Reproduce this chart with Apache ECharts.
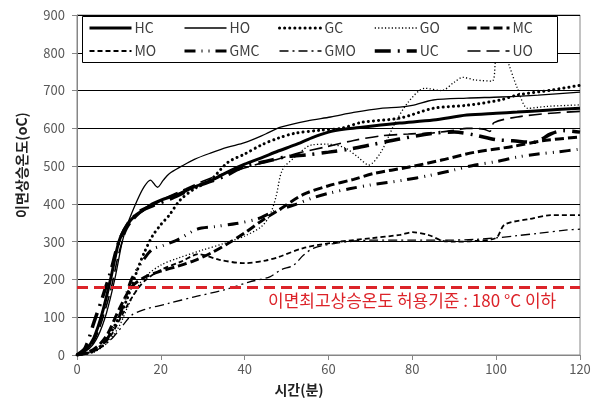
<!DOCTYPE html>
<html><head><meta charset="utf-8">
<script src="https://cdn.jsdelivr.net/npm/echarts@6/dist/echarts.min.js"></script>
<style>html,body{margin:0;padding:0;background:#fff}#c{width:598px;height:412px}</style>
</head><body><div id="c"></div>
<script>
const seriesNames = ['HC','HO','GC','GO','MC','MO','GMC','GMO','UC','UO'];
const xTicks = [0,20,40,60,80,100,120];
const yTicks = [0,100,200,300,400,500,600,700,800,900];
const limitValue = 180;
const limitLabel = '이면최고상승온도 허용기준 : 180 °C 이하';
const yTitle = '이면상승온도(oC)';
const xTitle = '시간(분)';

const HC = [[0,0],[2,12],[4,45],[6,110],[8,200],[10,300],[12,345],[14,370],[16,385],[18,400],[20,410],[24,425],[28,445],[32,462],[36,485],[40,505],[44,522],[48,540],[52,556],[56,575],[60,590],[64,598],[68,603],[72,608],[77,614],[85,622],[93,635],[100,640],[105,643],[112,648],[120,653]];
const HO = [[0,0],[3,18],[5,50],[7,110],[9,200],[10.8,300],[12,345],[14.4,410],[16,445],[17.5,463],[19.2,444],[20.6,463],[22,480],[25,500],[28,518],[32,535],[36,550],[40,562],[45,585],[48.6,603],[55,620],[60.5,630],[66,642],[72.5,653],[77,656],[80,661],[85,675],[93,680],[101,683],[110,688],[120,696]];
const GC = [[0,0],[4,10],[7,40],[10,100],[12,150],[14.4,225],[16,270],[18,315],[20,345],[22,370],[24.6,410],[28,440],[32,465],[36,510],[40,532],[44,556],[48,574],[52,587],[58,595],[63,600],[68,616],[77,627],[85,653],[93,661],[101,675],[105,688],[113,701],[120,714]];
const GO = [[0,0],[4,8],[7,30],[10,75],[12,125],[14,170],[16,205],[20,238],[24,256],[30,278],[35,295],[40,315],[44,340],[46,370],[47.5,420],[49,490],[52,524],[56,556],[60,558],[64,548],[67,524],[69.6,503],[72.5,537],[75.6,608],[79,669],[83,706],[87,700],[90,722],[92,735],[95,728],[99,725],[100,790],[101.5,815],[103,770],[105,708],[107.6,653],[112,658],[120,662]];
const MC = [[0,0],[4,15],[7,50],[10,120],[13,180],[16,205],[20,222],[24,235],[28,250],[32,270],[36,295],[40,323],[44,355],[48,383],[54,425],[60,448],[66,465],[71,481],[79,497],[87,516],[95,537],[104,552],[111,567],[120,577]];
const MO = [[0,0],[5,15],[8,50],[10,90],[13,150],[16,195],[20,225],[25,248],[29,267],[34,252],[40,243],[45,250],[48,259],[54,283],[62,299],[70,309],[77,318],[80,325],[84,317],[87,303],[90,300],[95,302],[100,310],[102,345],[108,360],[113,370],[120,370]];
const GMC = [[0,0],[4,10],[7,40],[10,100],[13,200],[15.8,251],[18,280],[20.6,290],[24,305],[28.7,333],[33,340],[38,348],[43,360],[47,380],[51.7,397],[56,415],[60,428],[65,440],[70,450],[78,463],[84,475],[90,490],[95,503],[100,512],[105,524],[110,532],[115,538],[120,545]];
const GMO = [[0,0],[5,15],[8,40],[10,65],[13,105],[16,120],[22,137],[28,154],[35,172],[41,193],[46,207],[48.6,225],[51.7,238],[54,264],[56.5,283],[62,296],[70,304],[80,304],[88,304],[95,306],[100,310],[105,316],[110,322],[117,331],[120,333]];
const UC = [[0,0],[2,20],[4,85],[6,150],[8,220],[10,300],[12,345],[15,380],[18,395],[22,412],[26,432],[30,452],[35,472],[40,500],[45,512],[50,525],[55,530],[60,537],[65,545],[70,556],[77,572],[85,587],[90,590],[95,582],[100,570],[104,567],[109,563],[113,585],[116,594],[120,590]];
const UO = [[0,0],[3,20],[5,60],[8,170],[10,270],[12,335],[15,375],[18,395],[22,420],[26,440],[30,460],[35,480],[39,492],[43,505],[47,516],[53,535],[59,550],[66,568],[72.5,580],[79,585],[85,588],[90,595],[93,600],[97,598],[98.5,592],[99.5,615],[105,630],[113,640],[120,645]];

const seriesData = {HC, HO, GC, GO, MC, MO, GMC, GMO, UC, UO};
const styles = {
  HC:  {width:3,   type:'solid'},
  HO:  {width:1.3, type:'solid'},
  GC:  {width:3,   type:[0.1,5], cap:'round'},
  GO:  {width:1.3, type:[1.2,2.2]},
  MC:  {width:3,   type:[9,4]},
  MO:  {width:1.8, type:[5,3]},
  GMC: {width:3,   type:[11,6,1,6,1,6], cap:'butt'},
  GMO: {width:1.3, type:[9,4,2,4]},
  UC:  {width:3.5, type:[16,7,2,7]},
  UO:  {width:1.6, type:[13,6]}
};
const FONT = '"Noto Sans CJK KR", "Noto Sans", sans-serif';

function lineStyleOf(n){
  const s = styles[n];
  return {color:'#000', width:s.width, type:s.type, cap:s.cap||'butt', opacity:1};
}

const series = seriesNames.map(function(n){
  return {
    name: n, type: 'line', data: seriesData[n], symbol: 'none', smooth: 0.3,
    lineStyle: lineStyleOf(n),
    itemStyle: {color:'#000'}, z: 3
  };
});
series.push({
  name: 'limit', type: 'line', data: [], symbol: 'none',
  markLine: {
    silent: true, symbol: 'none', label: {show:false},
    lineStyle: {color:'#dc2329', width:3, type:[11,6]},
    data: [{yAxis: limitValue}]
  }
});

const legendLefts = [88,183,278,373,466];
const legends = [0,1,2,3,4].map(function(i){
  return {
    orient:'vertical', left: legendLefts[i], top: 21, itemGap: 9,
    itemWidth: 42, itemHeight: 14, padding: 0, z: 60,
    itemStyle: {opacity: 0},
    textStyle: {fontSize:14, color:'#404040', fontFamily:FONT, padding:[0,0,0,-2]},
    data: [seriesNames[i], seriesNames[i+5]].map(function(n){
      return {name:n, lineStyle: lineStyleOf(n)};
    })
  };
});

const chart = echarts.init(document.getElementById('c'), null, {renderer:'canvas'});
chart.setOption({
  animation: false,
  backgroundColor: '#fff',
  grid: {left:77, right:18, top:15, bottom:57, show:true, borderColor:'#868686', borderWidth:1},
  legend: legends,
  xAxis: {
    type:'value', min: xTicks[0], max: xTicks[xTicks.length-1], interval: 20,
    axisLine: {show:true, lineStyle:{color:'#868686'}},
    axisTick: {show:true, length:5, lineStyle:{color:'#868686'}},
    axisLabel: {color:'#595959', fontSize:13, fontFamily:FONT, margin:8},
    splitLine: {show:false}
  },
  yAxis: {
    type:'value', min: yTicks[0], max: yTicks[yTicks.length-1], interval: 100,
    axisLine: {show:true, lineStyle:{color:'#868686'}},
    axisTick: {show:true, length:5, lineStyle:{color:'#868686'}},
    axisLabel: {color:'#595959', fontSize:13, fontFamily:FONT, margin:12},
    splitLine: {show:true, lineStyle:{color:'#000', width:1}}
  },
  graphic: [
    {type:'rect', left:82, top:16, z:50, shape:{width:475, height:46},
     style:{fill:'#fff', stroke:'#000', lineWidth:1}},
    {type:'text', left:268, top:292, z:55,
     style:{text:limitLabel, fill:'#dc2329', font:'17px ' + FONT}},
    {type:'text', x:22, y:165, rotation:Math.PI/2, z:55,
     style:{text:yTitle, fill:'#222', font:'bold 14px ' + FONT, align:'center', verticalAlign:'middle'}},
    {type:'text', left:'center', top:383, z:55,
     style:{text:xTitle, fill:'#222', font:'bold 14px ' + FONT}}
  ],
  series: series
});
</script></body></html>
